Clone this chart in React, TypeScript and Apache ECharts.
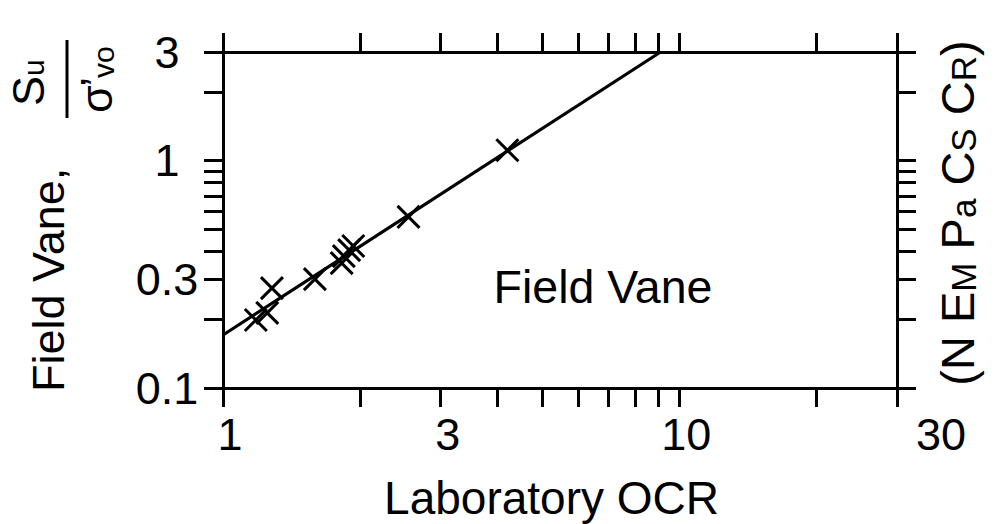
import React, { useEffect, useRef } from "react";
import * as echarts from "echarts";

const FONT = '"Liberation Sans", Arial, Helvetica, sans-serif';

// Laboratory OCR (x) vs normalized field vane strength (y)
const labOcr = [1.18, 1.25, 1.28, 1.59, 1.82, 1.84, 1.89, 1.93, 2.55, 4.2];
const fieldVaneRatio = [0.199, 0.214, 0.275, 0.301, 0.354, 0.38, 0.404, 0.421, 0.565, 1.11];

// fitted line end points
const fitOcr = [1, 9.1];
const fitRatio = [0.171, 3];

// axis ticks / labels
const xLabelValues = [1, 3, 10, 30];
const xTickValues = [1, 2, 3, 4, 5, 6, 7, 8, 9, 10, 20, 30];
const yLabelValues = [0.1, 0.3, 1, 3];
const yTickValues = [0.1, 0.2, 0.3, 0.4, 0.5, 0.6, 0.7, 0.8, 0.9, 1, 2, 3];

const fmt = (v: number) => String(parseFloat(Number(v).toPrecision(6)));

const axisLine = { show: true, onZero: false, lineStyle: { color: "#000", width: 3 } };

const labelText = { color: "#000", fontSize: 45, lineHeight: 45, fontFamily: FONT };

function xAxisCfg(position: "bottom" | "top", labels: boolean) {
  return {
    type: "log",
    logBase: 10,
    min: 1,
    max: 30,
    position,
    axisLine,
    axisTick: {
      show: true,
      inside: false,
      length: 19,
      customValues: xTickValues,
      lineStyle: { color: "#000", width: 3 },
    },
    minorTick: { show: false },
    splitLine: { show: false },
    axisLabel: {
      show: labels,
      customValues: xLabelValues,
      formatter: (v: number) => (Math.abs(v - 30) < 1e-6 ? `{far|${fmt(v)}}` : `{n|${fmt(v)}}`),
      ...labelText,
      margin: 24,
      rich: {
        n: { ...labelText, padding: [0, 0, 0, 14] },
        far: { ...labelText, padding: [0, 0, 0, 88] },
      },
    },
    ...(labels
      ? {
          name: "Laboratory OCR",
          nameLocation: "middle",
          nameGap: 87,
          nameTextStyle: {
            color: "#000",
            fontSize: 46,
            lineHeight: 46,
            fontFamily: FONT,
            padding: [0, 17, 0, 0],
          },
        }
      : {}),
  };
}

function yAxisCfg(position: "left" | "right", labels: boolean) {
  return {
    type: "log",
    logBase: 10,
    min: 0.1,
    max: 3,
    position,
    axisLine,
    axisTick: {
      show: true,
      inside: false,
      length: 19,
      customValues: yTickValues,
      lineStyle: { color: "#000", width: 3 },
    },
    minorTick: { show: false },
    splitLine: { show: false },
    axisLabel: {
      show: labels,
      customValues: yLabelValues,
      formatter: fmt,
      ...labelText,
      align: "center",
      margin: 56,
    },
  };
}

export default function App() {
  const ref = useRef<HTMLDivElement>(null);

  useEffect(() => {
    if (!ref.current) return;
    const chart = echarts.init(ref.current, null, { renderer: "svg" });

    const scatterData = labOcr.map((x, i) => [x, fieldVaneRatio[i]]);
    const fitData = fitOcr.map((x, i) => [x, fitRatio[i]]);

    const txt = (text: string, size: number) => ({
      text,
      fontSize: size,
      fontFamily: FONT,
      fill: "#000",
    });

    chart.setOption({
      animation: false,
      backgroundColor: "#fff",
      grid: {
        left: 223,
        right: 99,
        top: 52,
        bottom: 136,
        containLabel: false,
        outerBoundsMode: "none",
      },
      xAxis: [xAxisCfg("bottom", true), xAxisCfg("top", false)],
      yAxis: [yAxisCfg("left", true), yAxisCfg("right", false)],
      series: [
        {
          type: "line",
          data: fitData,
          xAxisIndex: 0,
          yAxisIndex: 0,
          symbol: "none",
          lineStyle: { color: "#000", width: 3.2 },
          z: 2,
        },
        {
          type: "scatter",
          data: scatterData,
          xAxisIndex: 0,
          yAxisIndex: 0,
          symbol: "path://M0 0L20 20M20 0L0 20",
          symbolSize: 22,
          itemStyle: {
            color: "rgba(0,0,0,0)",
            borderColor: "#000",
            borderWidth: 3,
            opacity: 1,
          },
          z: 3,
        },
      ],
      graphic: [
        // left axis title: Field Vane, Su / σ'vo
        {
          type: "text",
          x: 48,
          y: 392,
          rotation: Math.PI / 2,
          style: { ...txt("Field Vane,", 45), align: "left", verticalAlign: "middle" },
        },
        {
          type: "text",
          x: 28,
          y: 106,
          rotation: Math.PI / 2,
          style: { ...txt("S", 45), align: "left", verticalAlign: "middle" },
        },
        {
          type: "text",
          x: 33,
          y: 76,
          rotation: Math.PI / 2,
          style: { ...txt("u", 30), align: "left", verticalAlign: "middle" },
        },
        {
          type: "line",
          shape: { x1: 67, y1: 40, x2: 67, y2: 118 },
          style: { stroke: "#000", lineWidth: 3 },
        },
        {
          type: "text",
          x: 96,
          y: 113,
          rotation: Math.PI / 2,
          style: { ...txt("σ", 45), align: "left", verticalAlign: "middle" },
        },
        {
          type: "text",
          x: 96,
          y: 87,
          rotation: Math.PI / 2,
          style: { ...txt("’", 45), align: "left", verticalAlign: "middle" },
        },
        {
          type: "text",
          x: 103,
          y: 78,
          rotation: Math.PI / 2,
          style: { ...txt("vo", 30), align: "left", verticalAlign: "middle" },
        },
        // right axis title
        {
          type: "text",
          x: 957,
          y: 213,
          rotation: Math.PI / 2,
          style: {
            text: "{m|(N E}{s|M}{m| P}{s|a}{m| C}{s|S}{m| C}{s|R}{m|)}",
            fontFamily: FONT,
            fill: "#000",
            align: "center",
            verticalAlign: "middle",
            rich: {
              m: { fontSize: 47, lineHeight: 47, verticalAlign: "bottom", fontFamily: FONT, fill: "#000" },
              s: { fontSize: 35, lineHeight: 35, verticalAlign: "bottom", fontFamily: FONT, fill: "#000" },
            },
          },
        },
        // in-plot annotation
        {
          type: "text",
          x: 603,
          y: 287,
          style: { ...txt("Field Vane", 46.5), align: "center", verticalAlign: "middle" },
        },
      ],
    });

    return () => chart.dispose();
  }, []);

  return (
    <div
      ref={ref}
      style={{ position: "fixed", left: 0, top: 0, width: 996, height: 524, background: "#fff" }}
    />
  );
}
